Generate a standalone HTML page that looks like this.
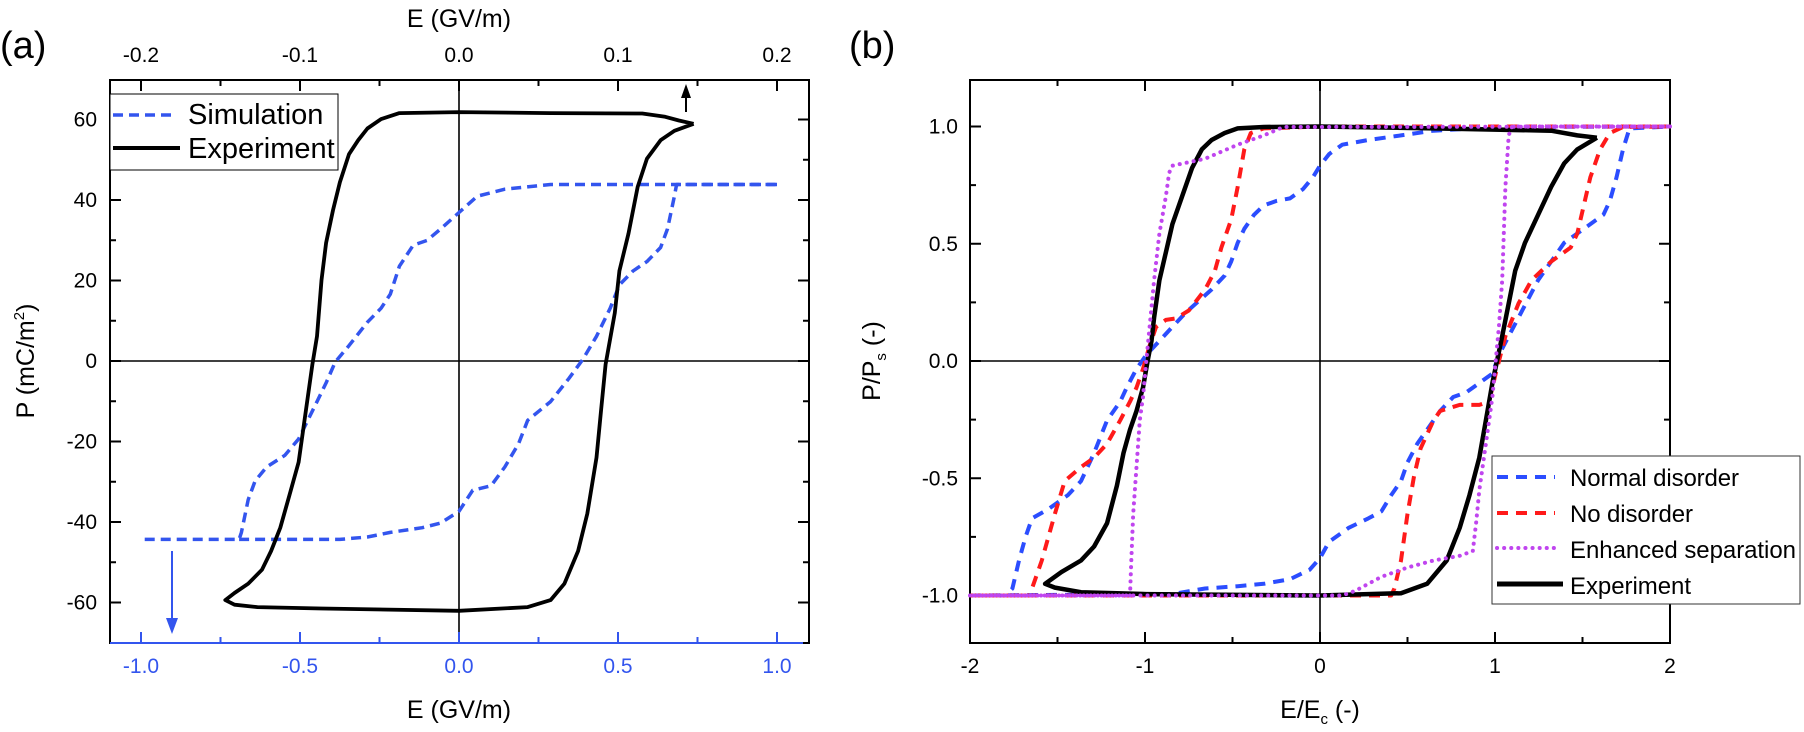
<!DOCTYPE html>
<html><head><meta charset="utf-8"><style>
html,body{margin:0;padding:0;background:#fff;}
svg{display:block;}
text{font-family:"Liberation Sans",Arial,sans-serif;}
</style></head><body>
<svg id="s" width="1804" height="732" viewBox="0 0 1804 732" xmlns="http://www.w3.org/2000/svg">
<rect width="1804" height="732" fill="#fff"/>
<g id="g"></g>
<!-- panel a texts -->
<text x="0" y="58" font-size="38">(a)</text>
<text x="459" y="27" font-size="25" text-anchor="middle">E (GV/m)</text>
<text x="459" y="718" font-size="25" text-anchor="middle">E (GV/m)</text>
<text transform="translate(34,361) rotate(-90)" font-size="25" text-anchor="middle">P (mC/m<tspan font-size="15" dy="-10">2</tspan><tspan dy="10">)</tspan></text>
<!-- legend a -->
<rect x="110" y="94" width="228" height="76" fill="#fff" stroke="#000" stroke-width="1"/>
<line x1="113" y1="115" x2="175" y2="115" stroke="#3355ee" stroke-width="3.5" stroke-dasharray="10,6"/>
<line x1="113" y1="148" x2="180" y2="148" stroke="#000" stroke-width="4"/>
<text x="188" y="124" font-size="29">Simulation</text>
<text x="188" y="158" font-size="29">Experiment</text>
<!-- panel b texts -->
<text x="849" y="58" font-size="38">(b)</text>
<text x="1320" y="718" font-size="25" text-anchor="middle">E/E<tspan font-size="15" dy="6">c</tspan><tspan dy="-6"> (-)</tspan></text>
<text transform="translate(880,361) rotate(-90)" font-size="25" text-anchor="middle">P/P<tspan font-size="15" dy="6">s</tspan><tspan dy="-6"> (-)</tspan></text>
<rect x="1492" y="456" width="308" height="148" fill="#fff" stroke="#333" stroke-width="1"/>
<line x1="1497" y1="477" x2="1555" y2="477" stroke="#2b4dff" stroke-width="4" stroke-dasharray="11,8"/>
<line x1="1497" y1="513" x2="1555" y2="513" stroke="#ff1a1a" stroke-width="4" stroke-dasharray="11,8"/>
<line x1="1497" y1="548" x2="1560" y2="548" stroke="#c045ef" stroke-width="4" stroke-dasharray="0.1,7" stroke-linecap="round"/>
<line x1="1497" y1="584" x2="1563" y2="584" stroke="#000" stroke-width="5"/>
<text x="1570" y="486" font-size="24" textLength="169">Normal disorder</text>
<text x="1570" y="522" font-size="24" textLength="123">No disorder</text>
<text x="1570" y="558" font-size="24" textLength="226">Enhanced separation</text>
<text x="1570" y="594" font-size="24" textLength="121">Experiment</text>
</svg>
<script>
var NS="http://www.w3.org/2000/svg",g=document.getElementById('g');
function el(t,a,txt){var e=document.createElementNS(NS,t);for(var k in a)e.setAttribute(k,a[k]);if(txt!=null)e.textContent=txt;g.appendChild(e);return e;}
function line(x1,y1,x2,y2,c,w){el('line',{x1:x1,y1:y1,x2:x2,y2:y2,stroke:c||'#000','stroke-width':w||2});}
function txt(x,y,s,c,anchor){el('text',{x:x,y:y,'font-size':21,fill:c||'#000','text-anchor':anchor||'middle'},s);}
// ---------- Panel A ----------
var L=110,R=809,T=80,B=643;
function ax(E){return 459+E*318;} function ay(P){return 361-P*4.025;}
line(ax(0),T,ax(0),B,'#000',1.6); line(L,ay(0),R,ay(0),'#000',1.6);
// ticks
for(var v=-60;v<=60;v+=10){var y=ay(v),len=(v%20==0)?11:6;line(L,y,L+len,y);line(R,y,R-len,y);if(v%20==0)txt(L-13,y+7,''+v,'#000','end');}
for(var e=-1;e<=1.001;e+=0.25){var x=ax(e),maj=Math.abs(Math.round(e*2)-e*2)<1e-6;line(x,B,x,B-(maj?11:6),'#3355ee',2);if(maj)txt(x,673,e.toFixed(1),'#3355ee');}
for(var e=-0.2;e<=0.2001;e+=0.05){var x=459+e*1590,maj=Math.abs(Math.round(e*10)-e*10)<1e-6;line(x,T,x,T+(maj?11:6));if(maj)txt(x,62,(Math.abs(e)<1e-9?0:e).toFixed(1));}
line(L,T,R,T,'#000',2);line(L,T-1,L,B+1,'#000',2);line(R,T-1,R,B+1,'#000',2);line(L,B,R-6,B,'#3355ee',2);line(R-6,B,R,B,'#000',2);
function zA(p){return [459+(p[0]-1000)*0.4582,361+(p[1]-773)*0.4669];}
function path(pts,f,attrs){var d='';pts.forEach(function(p,i){var q=f(p);d+=(i?'L':'M')+q[0].toFixed(1)+','+q[1].toFixed(1);});attrs.d=d;attrs.fill='none';attrs['stroke-linejoin']='round';el('path',attrs);}
var expA=[[1512,265],[1480,258],[1450,250],[1400,243],[1200,242],[1000,240],[870,242],[830,255],[800,275],[780,300],[760,330],[740,390],[725,450],[710,520],[700,600],[690,720],[680,780],[670,850],[660,920],[650,990],[630,1060],[610,1130],[590,1180],[570,1220],[540,1250],[510,1270],[490,1285],[510,1295],[560,1300],[700,1303],[1000,1308],[1150,1300],[1200,1285],[1230,1250],[1260,1180],[1280,1100],[1300,980],[1310,880],[1320,780],[1340,670],[1350,580],[1370,500],[1390,400],[1410,340],[1440,300],[1470,280],[1512,265]];
var simA=[[1694,395],[1200,395],[1100,405],[1040,420],[1000,455],[960,490],[930,515],[900,525],[870,570],[850,630],[830,660],[800,690],[760,740],[730,775],[710,820],[690,860],[665,910],[650,940],[620,975],[580,1000],[555,1030],[540,1070],[525,1140],[520,1155],[310,1155]];
var simA2=[[520,1155],[740,1155],[800,1150],[850,1140],[920,1130],[960,1120],[1000,1095],[1030,1050],[1070,1040],[1100,1000],[1130,950],[1150,900],[1200,860],[1240,810],[1270,770],[1300,720],[1330,660],[1350,610],[1380,580],[1410,560],[1440,530],[1455,490],[1470,420],[1475,395],[1694,395]];
path(simA,zA,{stroke:'#3355ee','stroke-width':3.5,'stroke-dasharray':'10,6'});
path(simA2,zA,{stroke:'#3355ee','stroke-width':3.5,'stroke-dasharray':'10,6'});
path(expA,zA,{stroke:'#000','stroke-width':3.8});
// arrows
line(172,551,172,620,'#3355ee',2);el('polygon',{points:'166,618 178,618 172,634',fill:'#3355ee'});
line(686,112,686,96,'#000',2);el('polygon',{points:'681,98 691,98 686,84',fill:'#000'});
// ---------- Panel B ----------
var L2=970,R2=1670;
function bx(E){return 1320+E*175;} function by(P){return 361-P*234.5;}
line(bx(0),T,bx(0),B,'#000',1.6); line(L2,by(0),R2,by(0),'#000',1.6);
for(var v=-1;v<=1.001;v+=0.25){var y=by(v),maj=Math.abs(Math.round(v*2)-v*2)<1e-6,len=maj?11:6;line(L2,y,L2+len,y);line(R2,y,R2-len,y);if(maj)txt(L2-12,y+7,(Math.abs(v)<1e-9?0:v).toFixed(1),'#000','end');}
for(var e=-2;e<=2.001;e+=0.5){var x=bx(e),maj=Math.abs(Math.round(e)-e)<1e-6,len=maj?11:6;line(x,B,x,B-len);line(x,T,x,T+len);if(maj)txt(x,673,''+Math.round(e));}
line(L2,T,R2,T,'#000',2);line(L2,B,R2,B,'#000',2);line(L2,T-1,L2,B+1,'#000',2);line(R2,T-1,R2,B+1,'#000',2);
function zB(p){return [1320+(p[0]-826)/268*175,361-(773-p[1])/502*234.5];}
var blue1=[[1362,271],[1100,272],[1000,280],[950,290],[900,300],[860,310],[840,330],[826,355],[815,380],[800,405],[780,425],[760,430],[740,440],[725,460],[710,490],[700,520],[690,560],[680,590],[660,620],[640,645],[620,670],[600,700],[580,730],[560,760],[545,790],[530,830],[520,860],[500,900],[480,970],[460,1030],[440,1060],[410,1090],[385,1110],[375,1150],[365,1200],[355,1260],[345,1275],[290,1275]];
var blue2=[[290,1275],[600,1272],[650,1260],[700,1255],[740,1250],[780,1240],[810,1220],[826,1195],[840,1160],[870,1130],[900,1110],[920,1095],[935,1060],[950,1030],[960,990],[975,950],[990,920],[1010,880],[1030,850],[1050,840],[1070,820],[1090,800],[1100,760],[1115,720],[1130,680],[1145,640],[1160,600],[1180,560],[1200,520],[1230,490],[1260,460],[1270,430],[1280,380],[1290,320],[1300,275],[1362,271]];
var red1=[[1362,271],[826,271],[740,275],[720,285],[710,320],[700,400],[690,470],[675,530],[665,580],[650,620],[625,665],[605,682],[590,685],[575,700],[565,740],[555,790],[545,830],[535,860],[520,900],[500,950],[480,980],[460,1000],[435,1030],[420,1100],[400,1200],[385,1260],[380,1275],[290,1275]];
var red2=[[290,1275],[935,1275],[940,1260],[950,1200],[960,1100],[970,1020],[980,960],[990,930],[1000,900],[1010,880],[1040,867],[1070,867],[1085,860],[1095,800],[1110,720],[1130,650],[1150,600],[1180,560],[1210,530],[1220,500],[1230,440],[1240,380],[1255,320],[1270,285],[1290,272],[1362,271]];
var mag1=[[1362,271],[770,272],[740,290],[700,310],[650,340],[600,355],[595,370],[590,420],[580,500],[572,600],[565,700],[560,773],[555,850],[550,900],[545,1000],[540,1100],[537,1200],[535,1275],[290,1275]];
var mag2=[[290,1275],[860,1275],[880,1265],[920,1235],[960,1215],[1000,1200],[1040,1190],[1060,1180],[1065,1120],[1070,1050],[1075,1000],[1080,950],[1090,850],[1095,773],[1100,700],[1105,600],[1110,400],[1115,290],[1120,271],[1362,271]];
var bd={stroke:'#2b4dff','stroke-width':4,'stroke-dasharray':'11,8'};
var rd={stroke:'#ff1a1a','stroke-width':4,'stroke-dasharray':'11,8'};
var md={stroke:'#c045ef','stroke-width':4,'stroke-dasharray':'0.1,7','stroke-linecap':'round'};
path(blue1,zB,Object.assign({},bd));path(blue2,zB,Object.assign({},bd));
path(red1,zB,Object.assign({},rd));path(red2,zB,Object.assign({},rd));
var expB=[[1250,295],[1220,290],[1180,280],[1000,275],[826,271],[740,272],[700,275],[680,285],[660,300],[645,320],[630,360],[615,420],[600,480],[590,540],[580,600],[572,680],[568,730],[562,773],[555,830],[545,880],[535,920],[525,970],[515,1040],[500,1120],[480,1170],[460,1200],[430,1225],[405,1250],[420,1258],[460,1268],[560,1272],[826,1275],[950,1270],[990,1250],[1020,1200],[1040,1130],[1055,1060],[1070,980],[1080,900],[1090,820],[1097,773],[1105,720],[1115,650],[1125,580],[1140,520],[1160,460],[1180,400],[1200,350],[1220,320],[1250,295]];
path(expB,zB,{stroke:'#000','stroke-width':4.5});
path(mag1,zB,Object.assign({},md));path(mag2,zB,Object.assign({},md));
// redraw legend b on top
var s=document.getElementById('s');var lg=[].slice.call(s.children).filter(function(n){return n.tagName!=='g'&&n.tagName!=='script';});
lg.forEach(function(n){if(n.tagName==='rect'&&n.getAttribute('width')==='1804')return;s.appendChild(n);});
</script>
</body></html>
